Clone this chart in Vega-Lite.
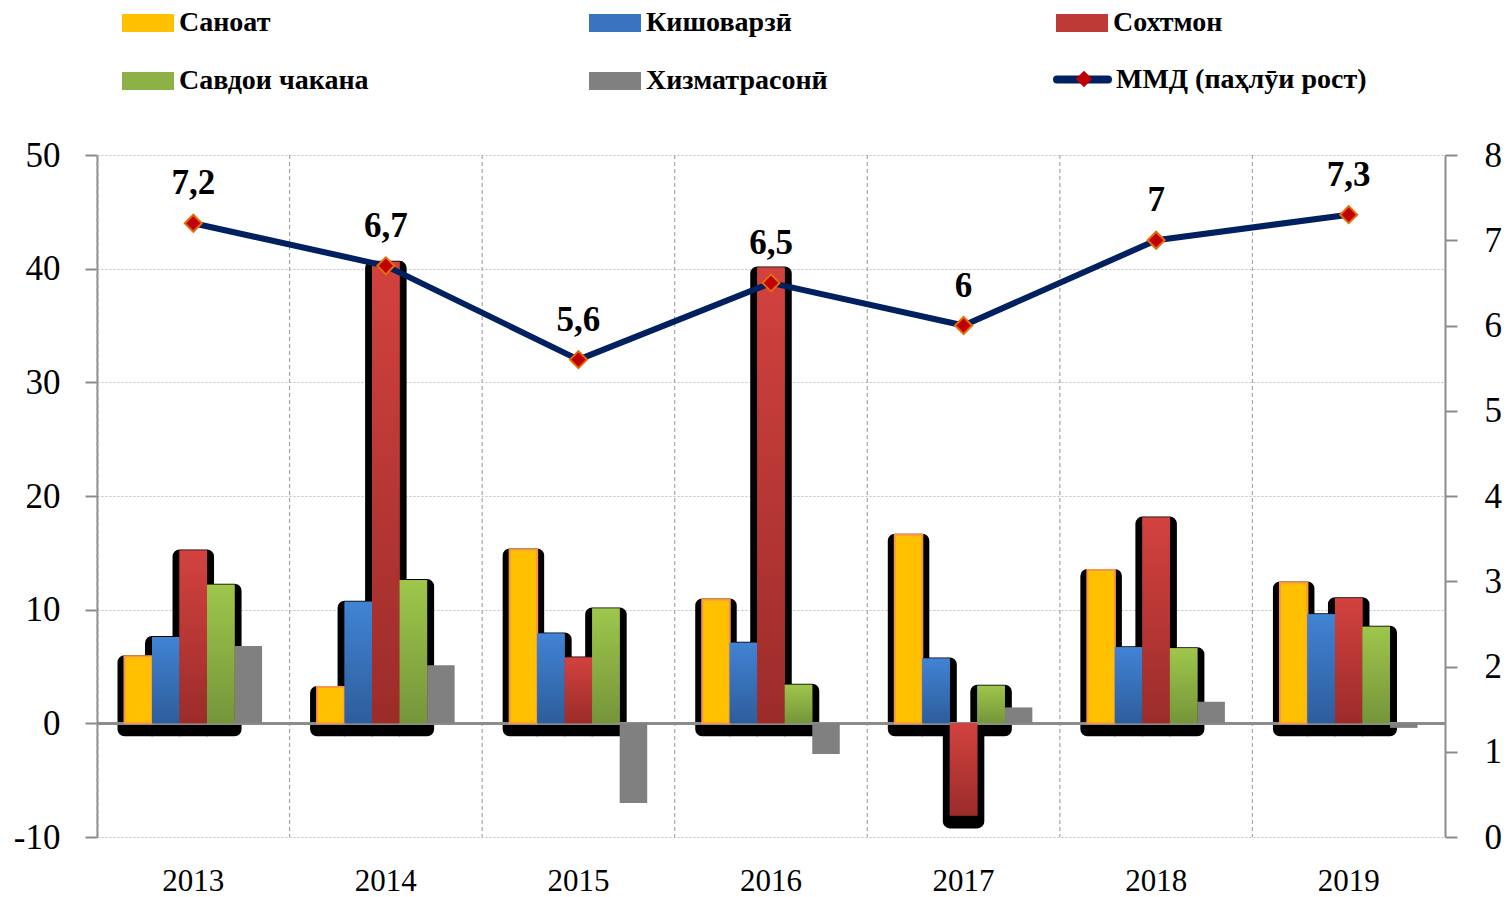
{
  "$schema": "https://vega.github.io/schema/vega-lite/v6.json",
  "width": 1348,
  "height": 682,
  "autosize": "none",
  "padding": {"left": 97, "top": 155, "right": 63, "bottom": 60},
  "background": "white",
  "config": {
    "view": {"stroke": null},
    "locale": {"number": {"decimal": ",", "thousands": " ", "grouping": [3], "currency": ["", ""], "minus": "-"}},
    "font": "Liberation Serif"
  },
  "datasets": {
    "bars": [
      {"year": "2013", "cat": "Саноат", "v": 5.9},
      {"year": "2013", "cat": "Кишоварзӣ", "v": 7.6},
      {"year": "2013", "cat": "Сохтмон", "v": 15.2},
      {"year": "2013", "cat": "Савдои чакана", "v": 12.2},
      {"year": "2013", "cat": "Хизматрасонӣ", "v": 6.8},
      {"year": "2014", "cat": "Саноат", "v": 3.2},
      {"year": "2014", "cat": "Кишоварзӣ", "v": 10.7},
      {"year": "2014", "cat": "Сохтмон", "v": 40.6},
      {"year": "2014", "cat": "Савдои чакана", "v": 12.6},
      {"year": "2014", "cat": "Хизматрасонӣ", "v": 5.1},
      {"year": "2015", "cat": "Саноат", "v": 15.3},
      {"year": "2015", "cat": "Кишоварзӣ", "v": 7.9},
      {"year": "2015", "cat": "Сохтмон", "v": 5.8},
      {"year": "2015", "cat": "Савдои чакана", "v": 10.1},
      {"year": "2015", "cat": "Хизматрасонӣ", "v": -7.0},
      {"year": "2016", "cat": "Саноат", "v": 10.9},
      {"year": "2016", "cat": "Кишоварзӣ", "v": 7.1},
      {"year": "2016", "cat": "Сохтмон", "v": 40.1},
      {"year": "2016", "cat": "Савдои чакана", "v": 3.4},
      {"year": "2016", "cat": "Хизматрасонӣ", "v": -2.7},
      {"year": "2017", "cat": "Саноат", "v": 16.6},
      {"year": "2017", "cat": "Кишоварзӣ", "v": 5.7},
      {"year": "2017", "cat": "Сохтмон", "v": -8.1},
      {"year": "2017", "cat": "Савдои чакана", "v": 3.3},
      {"year": "2017", "cat": "Хизматрасонӣ", "v": 1.4},
      {"year": "2018", "cat": "Саноат", "v": 13.5},
      {"year": "2018", "cat": "Кишоварзӣ", "v": 6.7},
      {"year": "2018", "cat": "Сохтмон", "v": 18.1},
      {"year": "2018", "cat": "Савдои чакана", "v": 6.6},
      {"year": "2018", "cat": "Хизматрасонӣ", "v": 1.9},
      {"year": "2019", "cat": "Саноат", "v": 12.4},
      {"year": "2019", "cat": "Кишоварзӣ", "v": 9.6},
      {"year": "2019", "cat": "Сохтмон", "v": 11.0},
      {"year": "2019", "cat": "Савдои чакана", "v": 8.5},
      {"year": "2019", "cat": "Хизматрасонӣ", "v": -0.4}
    ],
    "mmd": [
      {"year": "2013", "g": 7.2},
      {"year": "2014", "g": 6.7},
      {"year": "2015", "g": 5.6},
      {"year": "2016", "g": 6.5},
      {"year": "2017", "g": 6.0},
      {"year": "2018", "g": 7.0},
      {"year": "2019", "g": 7.3}
    ]
  },
  "resolve": {"scale": {"y": "independent"}},
  "layer": [
    {
      "layer": [
        {
          "data": {"name": "mmd"},
          "mark": {"type": "rule", "color": "#A6A6A6", "strokeWidth": 1.2, "strokeDash": [4, 3]},
          "encoding": {
            "x": {"field": "year", "type": "ordinal", "bandPosition": 0,
              "scale": {"paddingInner": 0, "paddingOuter": 0},
              "axis": {"title": null, "domain": false, "ticks": false, "grid": false, "labelFont": "Liberation Serif", "labelFontSize": 31, "labelColor": "black", "labelPadding": 29, "labelAngle": 0}
            }
          }
        },
        {
          "data": {"name": "bars"},
          "transform": [{"filter": "datum.cat !== 'Хизматрасонӣ'"}],
          "mark": {"type": "bar", "color": "black", "stroke": "black", "strokeWidth": 14, "strokeJoin": "round", "xOffset": -4, "yOffset": 6},
          "encoding": {
            "x": {"field": "year", "type": "ordinal"},
            "xOffset": {"field": "cat", "type": "nominal", "scale": {"domain": ["Саноат", "Кишоварзӣ", "Сохтмон", "Савдои чакана", "Хизматрасонӣ"], "paddingInner": 0, "paddingOuter": 1.17}},
            "y": {"field": "v", "type": "quantitative",
              "scale": {"domain": [-10, 50], "nice": false},
              "axis": {"title": null, "values": [-10, 0, 10, 20, 30, 40, 50], "format": "d", "grid": true, "gridDash": [2, 2], "gridColor": "#BFBFBF", "gridWidth": 1,
                "domainColor": "#8C8C8C", "domainWidth": 2, "tickColor": "#8C8C8C", "tickWidth": 2, "tickSize": 12,
                "labelFont": "Liberation Serif", "labelFontSize": 35, "labelColor": "black", "labelPadding": 25}
            }
          }
        },
        {
          "data": {"name": "bars"},
          "mark": {"type": "rule", "color": "#8C8C8C", "strokeWidth": 2},
          "encoding": {"y": {"datum": 0, "type": "quantitative"}}
        },
        {
          "data": {"name": "bars"},
          "mark": {"type": "bar", "strokeWidth": 2},
          "encoding": {
            "x": {"field": "year", "type": "ordinal"},
            "xOffset": {"field": "cat", "type": "nominal"},
            "y": {"field": "v", "type": "quantitative"},
            "color": {"field": "cat", "type": "nominal",
              "scale": {"domain": ["Саноат", "Кишоварзӣ", "Сохтмон", "Савдои чакана", "Хизматрасонӣ"], "range": ["#FFC000", "#3A74C0", "#BE3A37", "#8DB047", "#808080"]},
              "legend": {"orient": "none", "legendX": 25, "legendY": -158, "columns": 3, "direction": "horizontal", "title": null,
                "symbolType": "M-1,-0.35H1V0.35H-1Z", "symbolSize": 2704, "symbolStrokeWidth": 0, "symbolOpacity": 1,
                "labelFont": "Liberation Serif", "labelFontSize": 28, "labelFontWeight": "bold", "labelColor": "black", "labelOffset": 5, "labelLimit": 400,
                "gridAlign": "all", "columnPadding": 220, "rowPadding": 18, "padding": 0}
            },
            "stroke": {"condition": {"test": "datum.cat === 'Саноат'", "value": "#F79646"}, "value": null}
          }
        },
        {
          "data": {"name": "bars"},
          "transform": [{"filter": "datum.cat === 'Кишоварзӣ'"}],
          "mark": {"type": "bar", "color": {"gradient": "linear", "x1": 0, "y1": 0, "x2": 0, "y2": 1, "stops": [{"offset": 0, "color": "#4183D4"}, {"offset": 1, "color": "#2E5D9B"}]}},
          "encoding": {
            "x": {"field": "year", "type": "ordinal"},
            "xOffset": {"field": "cat", "type": "nominal"},
            "y": {"field": "v", "type": "quantitative"}
          }
        },
        {
          "data": {"name": "bars"},
          "transform": [{"filter": "datum.cat === 'Сохтмон'"}],
          "mark": {"type": "bar", "color": {"gradient": "linear", "x1": 0, "y1": 0, "x2": 0, "y2": 1, "stops": [{"offset": 0, "color": "#D2423F"}, {"offset": 1, "color": "#9B2C2A"}]}},
          "encoding": {
            "x": {"field": "year", "type": "ordinal"},
            "xOffset": {"field": "cat", "type": "nominal"},
            "y": {"field": "v", "type": "quantitative"}
          }
        },
        {
          "data": {"name": "bars"},
          "transform": [{"filter": "datum.cat === 'Савдои чакана'"}],
          "mark": {"type": "bar", "color": {"gradient": "linear", "x1": 0, "y1": 0, "x2": 0, "y2": 1, "stops": [{"offset": 0, "color": "#9EC64B"}, {"offset": 1, "color": "#75953A"}]}},
          "encoding": {
            "x": {"field": "year", "type": "ordinal"},
            "xOffset": {"field": "cat", "type": "nominal"},
            "y": {"field": "v", "type": "quantitative"}
          }
        }
      ]
    },
    {
      "data": {"name": "mmd"},
      "layer": [
        {
          "mark": {"type": "line", "strokeWidth": 6, "strokeCap": "round", "strokeJoin": "round"},
          "encoding": {
            "x": {"field": "year", "type": "ordinal"},
            "y": {"field": "g", "type": "quantitative",
              "scale": {"domain": [0, 8], "nice": false},
              "axis": {"orient": "right", "title": null, "values": [0, 1, 2, 3, 4, 5, 6, 7, 8], "format": "d", "grid": false,
                "domainColor": "#8C8C8C", "domainWidth": 2, "tickColor": "#8C8C8C", "tickWidth": 2, "tickSize": 12,
                "labelFont": "Liberation Serif", "labelFontSize": 35, "labelColor": "black", "labelPadding": 27}
            },
            "stroke": {"datum": "ММД (паҳлӯи рост)", "type": "nominal",
              "scale": {"range": ["#002060"]},
              "legend": {"orient": "none", "legendX": 956, "legendY": -105, "title": null,
                "symbolType": "stroke", "symbolSize": 2600, "symbolStrokeWidth": 8,
                "labelFont": "Liberation Serif", "labelFontSize": 28, "labelFontWeight": "bold", "labelColor": "black", "labelOffset": 4, "labelLimit": 400, "padding": 0,
                "encode": {"symbols": {"update": {"strokeCap": {"value": "round"}}}}}
            }
          }
        },
        {
          "mark": {"type": "point", "filled": true, "fill": "#C00000", "stroke": "#E46C0A", "strokeWidth": 2, "size": 290, "opacity": 1},
          "encoding": {
            "x": {"field": "year", "type": "ordinal"},
            "y": {"field": "g", "type": "quantitative"},
            "shape": {"datum": "ММД ", "type": "nominal",
              "scale": {"range": ["diamond"]},
              "legend": {"orient": "none", "legendX": 973, "legendY": -90, "title": null,
                "symbolSize": 270, "symbolFillColor": "#C00000", "symbolStrokeColor": "#E46C0A", "symbolStrokeWidth": 2,
                "labelOpacity": 0, "labelFontSize": 28, "padding": 0}
            }
          }
        },
        {
          "mark": {"type": "text", "dy": -40, "font": "Liberation Serif", "fontSize": 35, "fontWeight": "bold", "color": "black"},
          "encoding": {
            "x": {"field": "year", "type": "ordinal"},
            "y": {"field": "g", "type": "quantitative"},
            "text": {"field": "g", "type": "quantitative", "format": ".1~f"}
          }
        }
      ]
    }
  ]
}
